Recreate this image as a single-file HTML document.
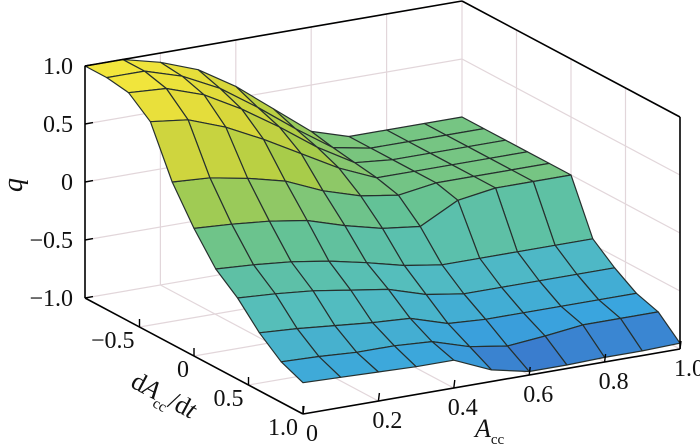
<!DOCTYPE html>
<html><head><meta charset="utf-8"><style>
html,body{margin:0;padding:0;background:#fff;}
svg{display:block;}
svg text{font-family:"Liberation Serif","DejaVu Serif","Noto Serif CJK SC",serif;fill:#111;}
</style></head><body>
<svg id="chart" width="700" height="446" viewBox="0 0 700 446">
<g id="walls"></g>
<g id="surface"></g>
<g id="box"></g>
<g id="ticks"></g>
<text x="22" y="185" font-size="28" font-style="italic" text-anchor="middle" transform="rotate(-90 22 185)">q</text>
<text x="475" y="437" font-size="26" font-style="italic">A<tspan font-size="15" font-style="normal" dy="7">cc</tspan></text>
<text x="124" y="402" font-size="26" transform="rotate(28 158 405)">d<tspan font-style="italic">A</tspan><tspan font-size="15" dy="7">cc</tspan><tspan dy="-7">/d</tspan><tspan font-style="italic">t</tspan></text>
</svg>
<script>
// data
const accValues = [0,0.1,0.2,0.3,0.4,0.5,0.6,0.7,0.8,0.9,1.0];
const dadtValues = [-1,-0.8,-0.6,-0.4,-0.2,0,0.2,0.4,0.6,0.8,1.0];
const qRowM10 = [1.00,1.00,0.92,0.80,0.60,0.35,0.10,0.00,0.00,0.00,0.00];
const qRowM08 = [1.00,1.00,0.90,0.74,0.52,0.28,0.06,0.00,0.00,0.00,0.00];
const qRowM06 = [0.97,0.95,0.84,0.66,0.45,0.22,0.03,0.00,0.00,0.00,0.00];
const qRowM04 = [0.82,0.78,0.66,0.50,0.32,0.14,0.00,0.00,0.00,0.00,0.00];
const qRowM02 = [0.40,0.38,0.32,0.24,0.10,0.00,-0.05,0.00,0.00,0.00,0.00];
const qRowP00 = [0.10,0.08,0.05,0.00,-0.10,-0.18,-0.22,-0.05,0.00,0.00,0.00];
const qRowP02 = [-0.15,-0.17,-0.20,-0.25,-0.32,-0.40,-0.45,-0.45,-0.45,-0.45,-0.45];
const qRowP04 = [-0.30,-0.32,-0.35,-0.40,-0.45,-0.55,-0.60,-0.60,-0.60,-0.60,-0.60];
const qRowP06 = [-0.50,-0.52,-0.55,-0.58,-0.60,-0.70,-0.72,-0.72,-0.72,-0.72,-0.72];
const qRowP08 = [-0.65,-0.66,-0.68,-0.68,-0.70,-0.80,-0.85,-0.82,-0.78,-0.78,-0.78];
const qRowP10 = [-0.73,-0.74,-0.75,-0.76,-0.76,-0.90,-0.97,-0.97,-0.96,-0.96,-0.95];
const qRows = [qRowM10,qRowM08,qRowM06,qRowM04,qRowM02,qRowP00,qRowP02,qRowP04,qRowP06,qRowP08,qRowP10];
const accTicks = [0,0.2,0.4,0.6,0.8,1.0];
const accTickLabels = ["0","0.2","0.4","0.6","0.8","1.0"];
const dadtTicks = [-0.5,0,0.5,1.0];
const dadtTickLabels = ["\u22120.5","0","0.5","1.0"];
const qTicks = [-1,-0.5,0,0.5,1];
const qTickLabels = ["\u22121.0","\u22120.5","0","0.5","1.0"];

const NS="http://www.w3.org/2000/svg";
function proj(A,D,q){
  const t=(1-D)/2, Z=(q+1)/2;
  return [303+377*A-218*t, 414-65*A-116*t-232*Z];
}
function depth(A,D,q){ const t=(1-D)/2, Z=(q+1)/2; return 218*A+377*t-250*Z; }
function mk(tag,attrs,parent){const e=document.createElementNS(NS,tag);for(const k in attrs)e.setAttribute(k,attrs[k]);parent.appendChild(e);return e;}
function pts(arr){return arr.map(p=>p[0].toFixed(1)+","+p[1].toFixed(1)).join(" ");}

const stops=[[-1,[58,100,196]],[-0.75,[58,165,222]],[-0.45,[84,190,190]],[-0.1,[100,194,150]],[0.3,[170,204,72]],[0.7,[220,216,58]],[1,[242,230,60]]];
function color(q){
  if(q<=stops[0][0])return "rgb("+stops[0][1]+")";
  for(let i=1;i<stops.length;i++){if(q<=stops[i][0]){const a=stops[i-1],b=stops[i];const f=(q-a[0])/(b[0]-a[0]);const c=a[1].map((v,j)=>Math.round(v+(b[1][j]-v)*f));return "rgb("+c+")";}}
  return "rgb("+stops[stops.length-1][1]+")";
}

const walls=document.getElementById('walls');
const gridStyle={stroke:"#e2d6da","stroke-width":1.2,fill:"none"};
accTicks.forEach(a=>{const p=proj(a,-1,-1),q=proj(a,-1,1);const l=mk('line',Object.assign({x1:p[0],y1:p[1],x2:q[0],y2:q[1]},gridStyle),walls);
 const f=proj(a,1,-1);const l2=mk('line',Object.assign({x1:p[0],y1:p[1],x2:f[0],y2:f[1]},gridStyle),walls);});
qTicks.forEach(z=>{const p=proj(0,-1,z),q=proj(1,-1,z),r=proj(1,1,z);const l=mk('polyline',Object.assign({points:pts([p,q,r])},gridStyle),walls);});
dadtTicks.forEach(d=>{const p=proj(1,d,-1),q=proj(1,d,1),f=proj(0,d,-1);const l=mk('polyline',Object.assign({points:pts([f,p,q])},gridStyle),walls);});

const surf=document.getElementById('surface');
const quads=[];
for(let i=0;i<dadtValues.length-1;i++){for(let j=0;j<accValues.length-1;j++){
  const c=[[j,i],[j+1,i],[j+1,i+1],[j,i+1]];
  const P=c.map(([jj,ii])=>proj(accValues[jj],dadtValues[ii],qRows[ii][jj]));
  let qa=0,da=0;c.forEach(([jj,ii])=>{qa+=qRows[ii][jj];da+=depth(accValues[jj],dadtValues[ii],qRows[ii][jj]);});
  quads.push({P,q:qa/4,d:da/4});
}}
quads.sort((a,b)=>b.d-a.d);
quads.forEach(o=>{const e=mk('polygon',{points:pts(o.P),fill:color(o.q),stroke:"#26302e","stroke-width":1.2,"stroke-linejoin":"round"},surf);

});

const box=document.getElementById('box');
const edges=[[[0,-1,-1],[0,-1,1]],[[1,1,-1],[1,1,1]],[[0,-1,1],[1,-1,1]],[[1,-1,1],[1,1,1]],[[0,-1,-1],[0,1,-1]],[[0,1,-1],[1,1,-1]]];
edges.forEach(e=>{const p=proj(...e[0]),q=proj(...e[1]);const l=mk('line',{x1:p[0],y1:p[1],x2:q[0],y2:q[1],stroke:"#000","stroke-width":1.6},box);});

const tk=document.getElementById('ticks');
qTicks.forEach((z,i)=>{const p=proj(0,-1,z);const l=mk('line',{x1:p[0],y1:p[1],x2:p[0]+8,y2:p[1]-1.4,stroke:"#000","stroke-width":1.4},tk);
 const t=mk('text',{x:p[0]-12,y:p[1]+8,"font-size":24,"text-anchor":"end"},tk);t.textContent=qTickLabels[i];});
accTicks.forEach((a,i)=>{const p=proj(a,1,-1);const l=mk('line',{x1:p[0],y1:p[1],x2:p[0]+1,y2:p[1]-8,stroke:"#000","stroke-width":1.4},tk);
 const t=mk('text',{x:p[0]+9,y:p[1]+27,"font-size":24,"text-anchor":"middle"},tk);t.textContent=accTickLabels[i];});
dadtTicks.forEach((d,i)=>{const p=proj(0,d,-1);const l=mk('line',{x1:p[0],y1:p[1],x2:p[0],y2:p[1]-8,stroke:"#000","stroke-width":1.4},tk);
 const t=mk('text',{x:p[0]-5,y:p[1]+21,"font-size":24,"text-anchor":"end"},tk);t.textContent=dadtTickLabels[i];});
</script>
</body></html>
